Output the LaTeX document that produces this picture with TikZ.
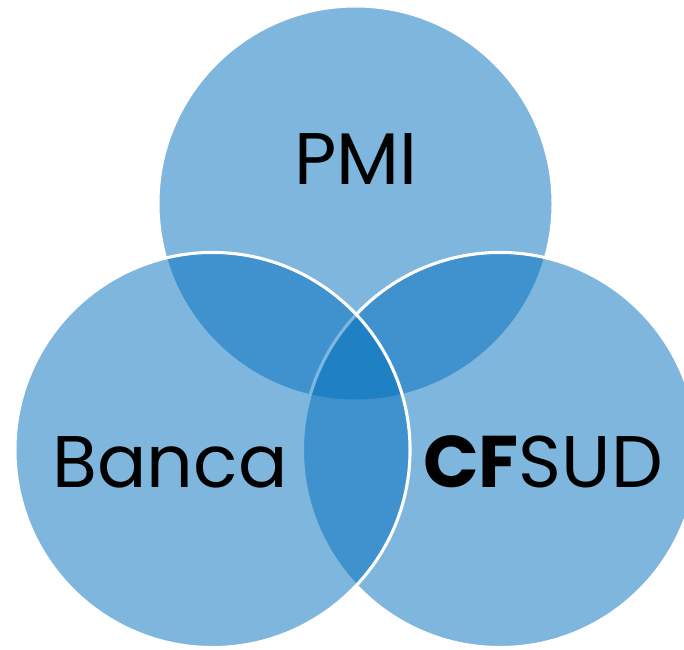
\documentclass[tikz,border=0pt]{standalone}
\usepackage{fontspec}
\setmainfont{Poppins}
\usepackage {tikz}
\usetikzlibrary {positioning}
\definecolor {setblue}{RGB}{0,110,188}

\begin{document}
\begin{tikzpicture}[x=0.025cm,y=-0.025cm]
  \tikzstyle{set}=[circle, draw=white, line width=2.2pt, fill=setblue,
fill opacity=0.5, minimum size=9.875cm, inner sep=0pt]
  \tikzstyle{label}=[text=black, font=\fontsize{52}{60}\selectfont]
  \useasboundingbox (0,0) rectangle (684,650);
  \node[set] (S_1) at (355.5,203.5) {};
  \node[set] (S_3) at (500,450) {};
  \node[set] (S_2) at (212.5,450) {};

  \node[label] (L_1) at (356,159) {PMI};
  \node[label] (L_2) at (170,462) {Banca};
  \node[label] (L_3) at (543,462) {\textbf{CF}SUD};
\end{tikzpicture}
\end{document}
